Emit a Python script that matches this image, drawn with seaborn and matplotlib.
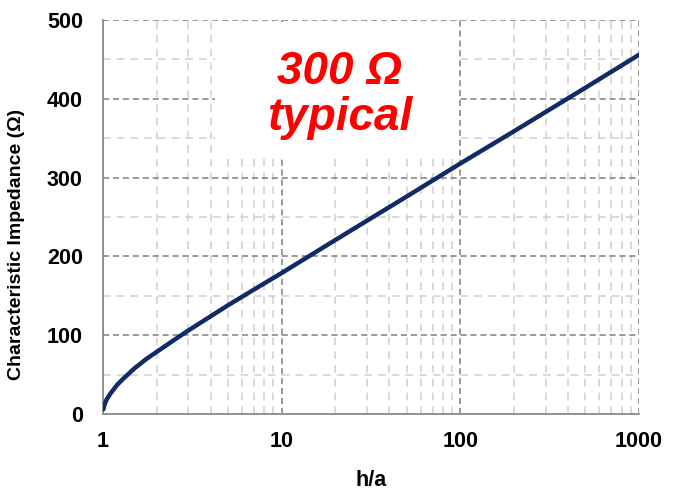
import matplotlib
matplotlib.use("Agg")
import matplotlib.pyplot as plt
from matplotlib.patches import Rectangle
from matplotlib.ticker import FixedLocator, LogLocator, NullFormatter
import numpy as np
import pandas as pd
import seaborn as sns

# Twin-lead line: spacing ratio h/a vs characteristic impedance
h_over_a = [1.005, 1.02, 1.05, 1.1, 1.2, 1.3, 1.5, 1.75, 2, 2.5, 3, 4, 5, 7,
            10, 20, 50, 100, 200, 500, 1000]
impedance = [6, 12, 19, 26, 37, 45, 58, 70, 79, 94, 106, 124, 138, 158,
             179, 221, 276, 318, 359, 414, 456]

x_ticks = [1, 10, 100, 1000]
x_tick_labels = ["1", "10", "100", "1000"]
y_ticks = [0, 100, 200, 300, 400, 500]

sns.set_theme(style="white")
plt.rcParams["font.family"] = ["Liberation Sans", "DejaVu Sans"]

df = pd.DataFrame({"h/a": h_over_a, "Z": impedance})

fig = plt.figure(figsize=(6.79, 4.90), dpi=100)
ax = fig.add_axes([0.1517, 0.155, 0.7894, 0.804])

sns.lineplot(data=df, x="h/a", y="Z", ax=ax, color="#102c66",
             linewidth=3.2, zorder=5)

ax.set_xscale("log")
ax.set_xlim(1, 1000)
ax.set_ylim(0, 500)

ax.xaxis.set_major_locator(FixedLocator(x_ticks))
ax.set_xticklabels(x_tick_labels)
ax.xaxis.set_minor_locator(LogLocator(base=10, subs=np.arange(2, 10)))
ax.xaxis.set_minor_formatter(NullFormatter())
ax.yaxis.set_major_locator(FixedLocator(y_ticks))
ax.yaxis.set_minor_locator(FixedLocator([50, 150, 250, 350, 450]))

ax.grid(True, which="major", color="#7f7f7f", linestyle=(0, (4, 2.5)),
        linewidth=1.1, zorder=1)
ax.grid(True, which="minor", color="#cfcfcf", linestyle=(0, (5, 4)),
        linewidth=1.1, zorder=1)
ax.set_axisbelow(True)

for side in ("top", "right"):
    ax.spines[side].set_visible(False)
for side in ("left", "bottom"):
    ax.spines[side].set_color("#8c8c8c")
    ax.spines[side].set_linewidth(1.3)

ax.tick_params(axis="both", which="major", length=9, width=1.1,
               color="#8c8c8c", labelsize=15.5, direction="inout",
               labelcolor="black")
ax.tick_params(axis="y", which="major", pad=10)
ax.tick_params(axis="x", which="major", pad=8)
ax.tick_params(axis="both", which="minor", length=0)
for lbl in ax.get_xticklabels() + ax.get_yticklabels():
    lbl.set_fontweight("bold")

ax.set_xlabel("h/a", fontsize=15.5, fontweight="bold", color="black")
ax.xaxis.set_label_coords(0.5, -0.142)
ax.set_ylabel("Characteristic Impedance (Ω)", fontsize=14,
              fontweight="bold", color="black")
ax.yaxis.set_label_coords(-0.145, 0.43)

# white panel behind the annotation
ax.add_patch(Rectangle((0.209, 0.652), 0.453, 0.343, transform=ax.transAxes,
                       facecolor="white", edgecolor="none", zorder=2))
ax.text(0.442, 0.81, "300 Ω\ntypical", transform=ax.transAxes,
        ha="center", va="center", color="#ff0000", fontsize=33,
        fontweight="bold", fontstyle="italic", linespacing=1.08, zorder=3)

fig.savefig("out.png", dpi=100)
